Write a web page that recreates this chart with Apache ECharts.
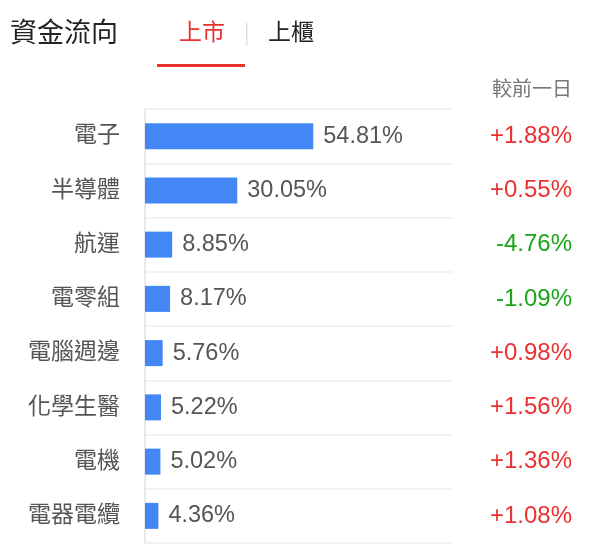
<!DOCTYPE html>
<html><head><meta charset="utf-8">
<script src="https://cdn.jsdelivr.net/npm/echarts@6/dist/echarts.min.js"></script>
<style>html,body{margin:0;padding:0;background:#fff}#c{width:597px;height:557px}</style>
</head><body><div id="c"></div>
<script>
const categories = ['電子','半導體','航運','電零組','電腦週邊','化學生醫','電機','電器電纜'];
const shares = [54.81, 30.05, 8.85, 8.17, 5.76, 5.22, 5.02, 4.36];
const changes = [1.88, 0.55, -4.76, -1.09, 0.98, 1.56, 1.36, 1.08];
const tabs = ['上市', '上櫃'];
const title = '資金流向';
const colHeader = '較前一日';

const FONT = '"Liberation Sans", Arial, "Noto Sans CJK TC", sans-serif';
const chart = echarts.init(document.getElementById('c'));
const changeLabels = changes.map(v => (v >= 0 ? '+' : '') + v.toFixed(2) + '%');

chart.setOption({
  animation: false,
  textStyle: { fontFamily: FONT },
  grid: { left: 145, right: 145, top: 109, bottom: 14, containLabel: false },
  xAxis: { type: 'value', min: 0, max: 100, show: false },
  yAxis: [{
    type: 'category', data: categories, inverse: true,
    axisLine: { show: true, lineStyle: { color: '#e3e3e3', width: 1.5 } },
    axisTick: { show: false },
    splitLine: { show: true, lineStyle: { color: '#eeeeee', width: 1.5 } },
    axisLabel: { color: '#555', fontSize: 23, margin: 25, fontFamily: FONT }
  }, {
    type: 'category', data: changeLabels, inverse: true, position: 'right',
    axisLine: { show: false }, axisTick: { show: false }, splitLine: { show: false },
    axisLabel: {
      margin: 120, align: 'right', fontSize: 24, fontFamily: FONT,
      color: (val) => val.charAt(0) === '-' ? '#19a619' : '#ec3030'
    }
  }],
  series: [{
    type: 'bar', data: shares, barWidth: 26,
    itemStyle: { color: '#4287f5' },
    label: { show: true, position: 'right', distance: 10, color: '#555', fontSize: 23.5,
      fontFamily: FONT, formatter: p => p.value.toFixed(2) + '%' }
  }],
  graphic: [
    { type: 'text', left: 10, top: 21, style: { text: title, fontSize: 27, fill: '#222', fontFamily: FONT } },
    { type: 'text', left: 179, top: 22, style: { text: tabs[0], fontSize: 23, fill: '#ec3030', fontFamily: FONT } },
    { type: 'rect', shape: { x: 157, y: 64, width: 88, height: 3 }, style: { fill: '#ec3030' } },
    { type: 'rect', shape: { x: 246, y: 23, width: 1.5, height: 23 }, style: { fill: '#e0e0e0' } },
    { type: 'text', left: 268, top: 22, style: { text: tabs[1], fontSize: 23, fill: '#222', fontFamily: FONT } },
    { type: 'text', right: 25, top: 80, style: { text: colHeader, fontSize: 20, fill: '#777', fontFamily: FONT } }
  ]
});
</script></body></html>
